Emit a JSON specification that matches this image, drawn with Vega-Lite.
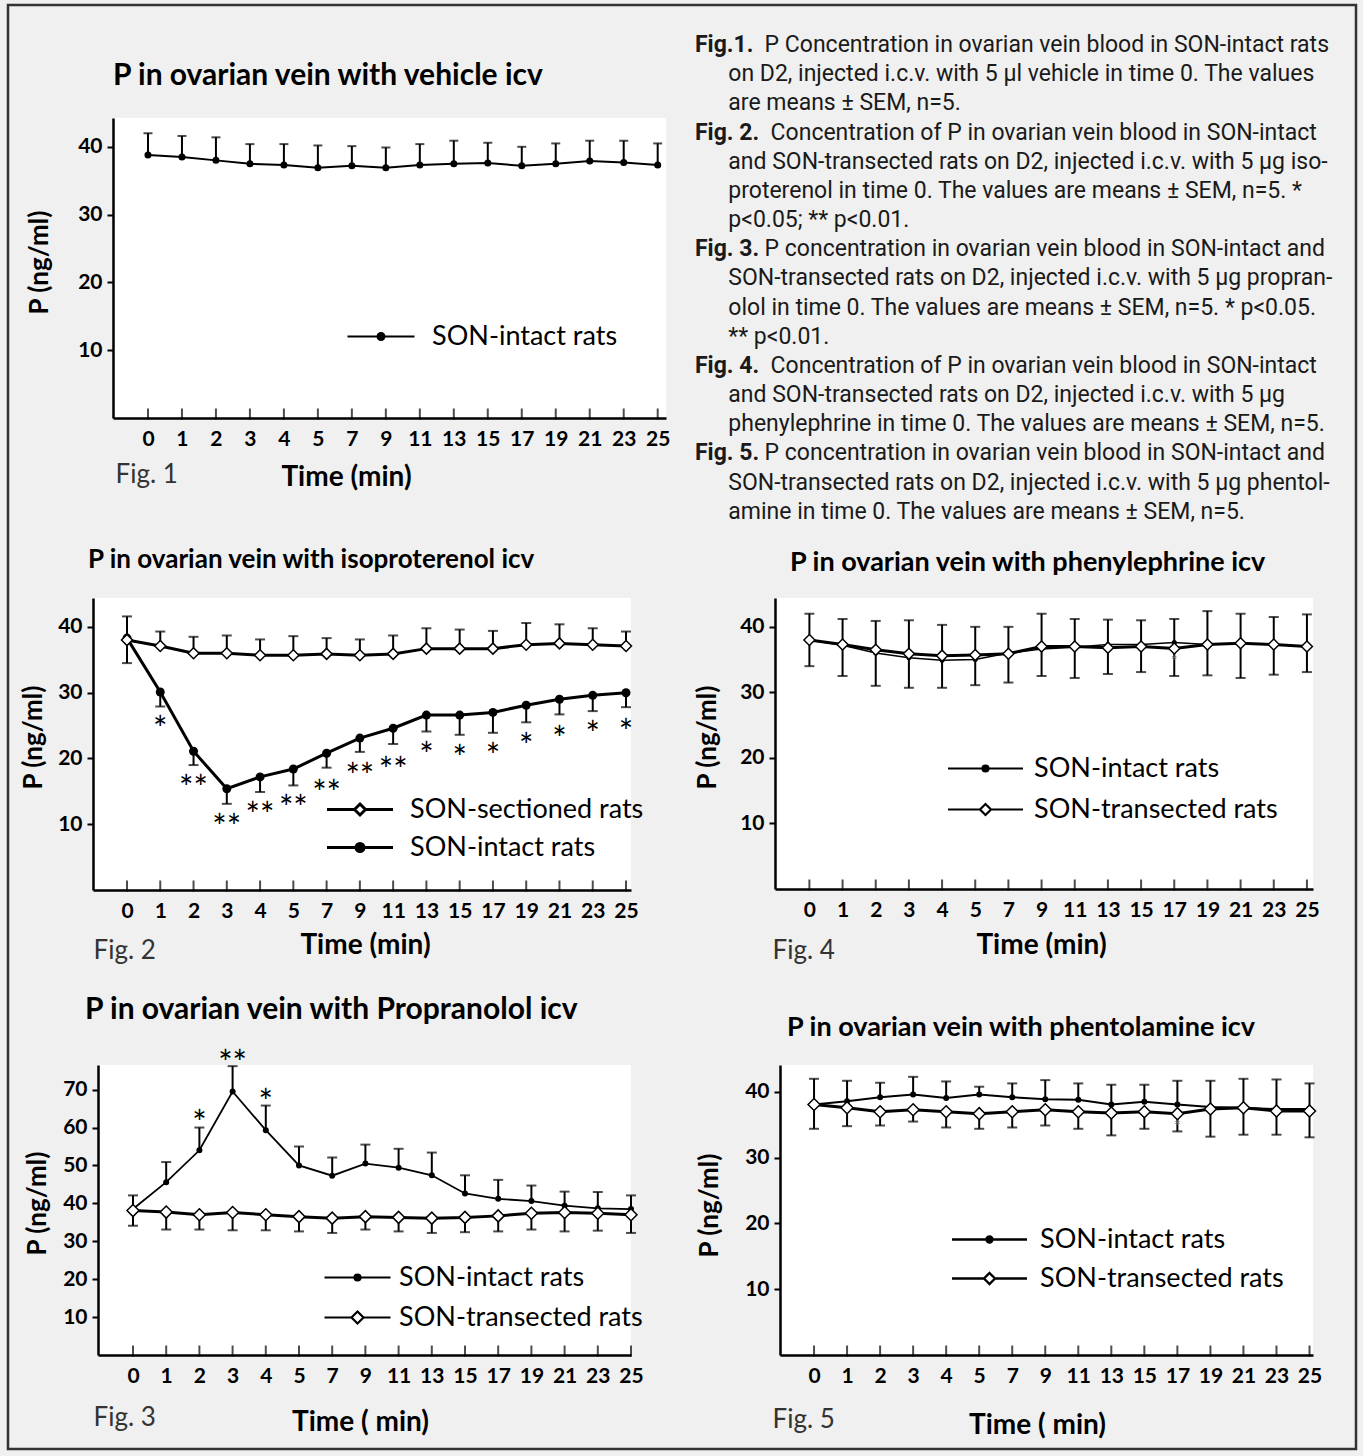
{
"$schema": "https://vega.github.io/schema/vega-lite/v6.json",
"background": "#f0f0f0",
"padding": {"left": 5, "top": 3, "right": 8, "bottom": 8},
"bounds": "flush",
"spacing": 767,
"resolve": {"scale": {"shape": "independent", "fill": "independent", "stroke": "independent"}},
"config": {
 "view": {"stroke": null, "fill": "white"},
 "font": "Lato",
 "axis": {"domainColor": "black", "domainWidth": 2.5, "tickColor": "black", "tickWidth": 2, "labelColor": "black", "labelFont": "Lato", "labelFontSize": 21, "labelFontWeight": "bold", "titleColor": "black", "titleFont": "Lato", "titleFontSize": 26, "titleFontWeight": "bold", "grid": false, "labelOverlap": false},
 "legend": {"labelFont": "Lato", "labelColor": "black", "labelFontSize": 27, "labelLimit": 600, "padding": 0},
 "title": {"font": "Lato", "fontWeight": "bold", "color": "black", "anchor": "start", "frame": "group", "baseline": "alphabetic"}
},
"datasets": {
 "f1": [
  {"t":0,"s":"SON-intact rats","v":38.8,"hi":42.0},{"t":1,"s":"SON-intact rats","v":38.5,"hi":41.6},{"t":2,"s":"SON-intact rats","v":38.0,"hi":41.4},{"t":3,"s":"SON-intact rats","v":37.5,"hi":40.4},{"t":4,"s":"SON-intact rats","v":37.3,"hi":40.4},{"t":5,"s":"SON-intact rats","v":36.9,"hi":40.2},{"t":7,"s":"SON-intact rats","v":37.2,"hi":40.1},{"t":9,"s":"SON-intact rats","v":36.9,"hi":39.9},{"t":11,"s":"SON-intact rats","v":37.3,"hi":40.4},{"t":13,"s":"SON-intact rats","v":37.5,"hi":40.9},{"t":15,"s":"SON-intact rats","v":37.6,"hi":40.6},{"t":17,"s":"SON-intact rats","v":37.2,"hi":40.0},{"t":19,"s":"SON-intact rats","v":37.5,"hi":40.5},{"t":21,"s":"SON-intact rats","v":37.9,"hi":40.9},{"t":23,"s":"SON-intact rats","v":37.7,"hi":40.9},{"t":25,"s":"SON-intact rats","v":37.3,"hi":40.5}
 ],
 "f2": [
  {"t":0,"s":"SON-sectioned rats","v":38.0,"hi":41.6},{"t":1,"s":"SON-sectioned rats","v":37.1,"hi":39.3},{"t":2,"s":"SON-sectioned rats","v":36.0,"hi":38.5},{"t":3,"s":"SON-sectioned rats","v":36.0,"hi":38.7},{"t":4,"s":"SON-sectioned rats","v":35.7,"hi":38.1},{"t":5,"s":"SON-sectioned rats","v":35.7,"hi":38.6},{"t":7,"s":"SON-sectioned rats","v":35.9,"hi":38.3},{"t":9,"s":"SON-sectioned rats","v":35.7,"hi":38.1},{"t":11,"s":"SON-sectioned rats","v":35.9,"hi":38.7},{"t":13,"s":"SON-sectioned rats","v":36.7,"hi":39.8},{"t":15,"s":"SON-sectioned rats","v":36.7,"hi":39.6},{"t":17,"s":"SON-sectioned rats","v":36.7,"hi":39.4},{"t":19,"s":"SON-sectioned rats","v":37.3,"hi":40.6},{"t":21,"s":"SON-sectioned rats","v":37.5,"hi":40.4},{"t":23,"s":"SON-sectioned rats","v":37.3,"hi":39.8},{"t":25,"s":"SON-sectioned rats","v":37.1,"hi":39.3},
  {"t":0,"s":"SON-intact rats","v":38.3,"lo":34.5},{"t":1,"s":"SON-intact rats","v":30.1,"lo":27.9},{"t":2,"s":"SON-intact rats","v":21.1,"lo":19.0},{"t":3,"s":"SON-intact rats","v":15.4,"lo":13.1},{"t":4,"s":"SON-intact rats","v":17.2,"lo":14.9},{"t":5,"s":"SON-intact rats","v":18.4,"lo":15.9},{"t":7,"s":"SON-intact rats","v":20.8,"lo":18.6},{"t":9,"s":"SON-intact rats","v":23.1,"lo":21.0},{"t":11,"s":"SON-intact rats","v":24.6,"lo":22.2},{"t":13,"s":"SON-intact rats","v":26.6,"lo":24.1},{"t":15,"s":"SON-intact rats","v":26.6,"lo":23.6},{"t":17,"s":"SON-intact rats","v":27.0,"lo":23.9},{"t":19,"s":"SON-intact rats","v":28.1,"lo":25.5},{"t":21,"s":"SON-intact rats","v":29.0,"lo":26.7},{"t":23,"s":"SON-intact rats","v":29.6,"lo":27.2},{"t":25,"s":"SON-intact rats","v":30.0,"lo":27.8}
 ],
 "f3": [
  {"t":0,"s":"SON-intact rats","v":38.5,"hi":42.1},{"t":1,"s":"SON-intact rats","v":45.6,"hi":50.9},{"t":2,"s":"SON-intact rats","v":54.0,"hi":60.0},{"t":3,"s":"SON-intact rats","v":69.5,"hi":76.2},{"t":4,"s":"SON-intact rats","v":59.3,"hi":65.8},{"t":5,"s":"SON-intact rats","v":50.0,"hi":55.0},{"t":7,"s":"SON-intact rats","v":47.3,"hi":52.1},{"t":9,"s":"SON-intact rats","v":50.5,"hi":55.5},{"t":11,"s":"SON-intact rats","v":49.4,"hi":54.4},{"t":13,"s":"SON-intact rats","v":47.4,"hi":53.4},{"t":15,"s":"SON-intact rats","v":42.6,"hi":47.4},{"t":17,"s":"SON-intact rats","v":41.2,"hi":46.2},{"t":19,"s":"SON-intact rats","v":40.6,"hi":44.7},{"t":21,"s":"SON-intact rats","v":39.4,"hi":43.1},{"t":23,"s":"SON-intact rats","v":38.7,"hi":43.0},{"t":25,"s":"SON-intact rats","v":38.5,"hi":42.1},
  {"t":0,"s":"SON-transected rats","v":38.1,"lo":34.1},{"t":1,"s":"SON-transected rats","v":37.7,"lo":33.1},{"t":2,"s":"SON-transected rats","v":37.0,"lo":33.1},{"t":3,"s":"SON-transected rats","v":37.6,"lo":32.9},{"t":4,"s":"SON-transected rats","v":37.0,"lo":32.9},{"t":5,"s":"SON-transected rats","v":36.5,"lo":32.6},{"t":7,"s":"SON-transected rats","v":36.1,"lo":32.2},{"t":9,"s":"SON-transected rats","v":36.5,"lo":33.1},{"t":11,"s":"SON-transected rats","v":36.3,"lo":32.6},{"t":13,"s":"SON-transected rats","v":36.1,"lo":32.2},{"t":15,"s":"SON-transected rats","v":36.3,"lo":32.4},{"t":17,"s":"SON-transected rats","v":36.7,"lo":32.6},{"t":19,"s":"SON-transected rats","v":37.4,"lo":33.1},{"t":21,"s":"SON-transected rats","v":37.6,"lo":32.6},{"t":23,"s":"SON-transected rats","v":37.4,"lo":32.8},{"t":25,"s":"SON-transected rats","v":37.0,"lo":32.2}
 ],
 "f4": [
  {"t":0,"s":"SON-intact rats","v":38.0,"hi":42.0},{"t":1,"s":"SON-intact rats","v":37.2,"hi":41.2},{"t":2,"s":"SON-intact rats","v":36.0,"hi":40.9},{"t":3,"s":"SON-intact rats","v":35.3,"hi":41.0},{"t":4,"s":"SON-intact rats","v":34.9,"hi":40.3},{"t":5,"s":"SON-intact rats","v":35.0,"hi":40.0},{"t":7,"s":"SON-intact rats","v":36.0,"hi":40.0},{"t":9,"s":"SON-intact rats","v":36.6,"hi":42.0},{"t":11,"s":"SON-intact rats","v":36.9,"hi":41.2},{"t":13,"s":"SON-intact rats","v":37.3,"hi":41.1},{"t":15,"s":"SON-intact rats","v":37.3,"hi":41.0},{"t":17,"s":"SON-intact rats","v":37.6,"hi":41.2},{"t":19,"s":"SON-intact rats","v":37.3,"hi":42.4},{"t":21,"s":"SON-intact rats","v":37.5,"hi":42.0},{"t":23,"s":"SON-intact rats","v":37.3,"hi":41.5},{"t":25,"s":"SON-intact rats","v":37.0,"hi":41.9},
  {"t":0,"s":"SON-transected rats","v":38.0,"lo":34.0},{"t":1,"s":"SON-transected rats","v":37.3,"lo":32.5},{"t":2,"s":"SON-transected rats","v":36.5,"lo":31.0},{"t":3,"s":"SON-transected rats","v":35.9,"lo":30.7},{"t":4,"s":"SON-transected rats","v":35.6,"lo":30.7},{"t":5,"s":"SON-transected rats","v":35.7,"lo":31.1},{"t":7,"s":"SON-transected rats","v":35.9,"lo":31.5},{"t":9,"s":"SON-transected rats","v":37.0,"lo":32.5},{"t":11,"s":"SON-transected rats","v":37.0,"lo":32.2},{"t":13,"s":"SON-transected rats","v":36.8,"lo":32.8},{"t":15,"s":"SON-transected rats","v":37.0,"lo":33.1},{"t":17,"s":"SON-transected rats","v":36.7,"lo":32.5},{"t":19,"s":"SON-transected rats","v":37.3,"lo":32.6},{"t":21,"s":"SON-transected rats","v":37.5,"lo":32.2},{"t":23,"s":"SON-transected rats","v":37.3,"lo":32.7},{"t":25,"s":"SON-transected rats","v":37.0,"lo":33.1}
 ],
 "f5": [
  {"t":0,"s":"SON-intact rats","v":38.1,"hi":42.0},{"t":1,"s":"SON-intact rats","v":38.6,"hi":41.7},{"t":2,"s":"SON-intact rats","v":39.2,"hi":41.4},{"t":3,"s":"SON-intact rats","v":39.6,"hi":42.3},{"t":4,"s":"SON-intact rats","v":39.1,"hi":41.6},{"t":5,"s":"SON-intact rats","v":39.6,"hi":40.8},{"t":7,"s":"SON-intact rats","v":39.2,"hi":41.3},{"t":9,"s":"SON-intact rats","v":38.9,"hi":41.8},{"t":11,"s":"SON-intact rats","v":38.8,"hi":41.3},{"t":13,"s":"SON-intact rats","v":38.1,"hi":41.1},{"t":15,"s":"SON-intact rats","v":38.5,"hi":41.1},{"t":17,"s":"SON-intact rats","v":38.1,"hi":41.7},{"t":19,"s":"SON-intact rats","v":37.7,"hi":41.7},{"t":21,"s":"SON-intact rats","v":37.6,"hi":42.0},{"t":23,"s":"SON-intact rats","v":37.4,"hi":41.9},{"t":25,"s":"SON-intact rats","v":37.4,"hi":41.3},
  {"t":0,"s":"SON-transected rats","v":38.1,"lo":34.4},{"t":1,"s":"SON-transected rats","v":37.6,"lo":34.8},{"t":2,"s":"SON-transected rats","v":37.0,"lo":34.9},{"t":3,"s":"SON-transected rats","v":37.3,"lo":35.5},{"t":4,"s":"SON-transected rats","v":37.0,"lo":34.6},{"t":5,"s":"SON-transected rats","v":36.7,"lo":34.4},{"t":7,"s":"SON-transected rats","v":37.0,"lo":34.6},{"t":9,"s":"SON-transected rats","v":37.3,"lo":34.9},{"t":11,"s":"SON-transected rats","v":37.0,"lo":34.4},{"t":13,"s":"SON-transected rats","v":36.8,"lo":33.4},{"t":15,"s":"SON-transected rats","v":37.0,"lo":34.4},{"t":17,"s":"SON-transected rats","v":36.7,"lo":34.0},{"t":19,"s":"SON-transected rats","v":37.4,"lo":33.2},{"t":21,"s":"SON-transected rats","v":37.6,"lo":33.5},{"t":23,"s":"SON-transected rats","v":37.1,"lo":33.5},{"t":25,"s":"SON-transected rats","v":37.1,"lo":33.1}
 ],
 "a2": [{"t":1,"y":25.4,"lab":"*"},{"t":2,"y":16.4,"lab":"**"},{"t":3,"y":10.5,"lab":"**"},{"t":4,"y":12.3,"lab":"**"},{"t":5,"y":13.4,"lab":"**"},{"t":7,"y":15.7,"lab":"**"},{"t":9,"y":18.2,"lab":"**"},{"t":11,"y":19.1,"lab":"**"},{"t":13,"y":21.4,"lab":"*"},{"t":15,"y":21.0,"lab":"*"},{"t":17,"y":21.3,"lab":"*"},{"t":19,"y":22.8,"lab":"*"},{"t":21,"y":23.8,"lab":"*"},{"t":23,"y":24.6,"lab":"*"},{"t":25,"y":24.9,"lab":"*"}],
 "a3": [{"t":2,"y":62.7,"lab":"*"},{"t":3,"y":78.7,"lab":"**"},{"t":4,"y":68.2,"lab":"*"}],
 "a4": [{"t":17,"y":35.4,"lab":"*"}],
 "a5": [{"t":17,"y":35.5,"lab":"*"}],
 "cap": [
  {"line":1,"fig":1,"part":"head","text":"Fig.1."},
  {"line":1,"fig":1,"part":"rest","text":"P Concentration in ovarian vein blood in SON-intact rats"},
  {"line":2,"fig":1,"part":"cont","text":"on D2, injected i.c.v. with 5 µl vehicle in time 0. The values"},
  {"line":3,"fig":1,"part":"cont","text":"are means ± SEM, n=5."},
  {"line":4,"fig":2,"part":"head","text":"Fig. 2."},
  {"line":4,"fig":2,"part":"rest","text":"Concentration of P in ovarian vein blood in SON-intact"},
  {"line":5,"fig":2,"part":"cont","text":"and SON-transected rats on D2, injected i.c.v. with 5 µg iso-"},
  {"line":6,"fig":2,"part":"cont","text":"proterenol in time 0. The values are means ± SEM, n=5.   *"},
  {"line":7,"fig":2,"part":"cont","text":"p<0.05; ** p<0.01."},
  {"line":8,"fig":3,"part":"head","text":"Fig. 3."},
  {"line":8,"fig":3,"part":"rest","text":"P concentration in ovarian vein blood in SON-intact and"},
  {"line":9,"fig":3,"part":"cont","text":"SON-transected rats on D2,  injected i.c.v. with 5 µg propran-"},
  {"line":10,"fig":3,"part":"cont","text":"olol in time 0. The values are means ± SEM, n=5. * p<0.05."},
  {"line":11,"fig":3,"part":"cont","text":"** p<0.01."},
  {"line":12,"fig":4,"part":"head","text":"Fig. 4."},
  {"line":12,"fig":4,"part":"rest","text":"Concentration of P in ovarian vein blood in SON-intact"},
  {"line":13,"fig":4,"part":"cont","text":"and SON-transected rats on D2, injected i.c.v. with 5 µg"},
  {"line":14,"fig":4,"part":"cont","text":"phenylephrine in time 0. The values are means ± SEM, n=5."},
  {"line":15,"fig":5,"part":"head","text":"Fig. 5."},
  {"line":15,"fig":5,"part":"rest","text":"P concentration in ovarian vein blood in SON-intact and"},
  {"line":16,"fig":5,"part":"cont","text":"SON-transected rats on D2, injected i.c.v. with 5 µg phentol-"},
  {"line":17,"fig":5,"part":"cont","text":"amine in time 0. The values are means ± SEM, n=5."}
 ]
},
"hconcat": [
 {"vconcat": [
  {"hconcat": [
   {"width": 1348, "height": 1444, "view": {"fill": "transparent", "stroke": "#333333", "strokeWidth": 2.5}, "data": {"values": [{"a": 1}]}, "mark": {"type": "point", "opacity": 0}}
  ], "spacing": 0, "bounds": "flush"},
  {"hconcat": [
   {"width": 105, "height": 1, "view": {"fill": "transparent", "stroke": null}, "data": {"values": [{"a": 1}]}, "mark": {"type": "point", "opacity": 0}},
   {"width": 553, "height": 300,
    "title": {"text": "P in ovarian vein with vehicle icv", "dx": 0, "offset": 27, "fontSize": 30},
    "data": {"name": "f1"},
    "resolve": {"axis": {"x": "independent"}},
    "layer": [
     {"transform": [{"filter": "datum.hi != null"}], "mark": {"type": "rule", "color": "black", "strokeWidth": 2},
      "encoding": {"x": {"field": "t", "type": "ordinal", "axis": null}, "y": {"field": "v", "type": "quantitative"}, "y2": {"field": "hi"}}},
     {"transform": [{"filter": "datum.hi != null"}], "mark": {"type": "tick", "orient": "horizontal", "size": 9, "thickness": 2, "color": "black"},
      "encoding": {"x": {"field": "t", "type": "ordinal", "axis": null}, "y": {"field": "hi", "type": "quantitative"}}},
     {"mark": {"type": "line", "color": "black", "strokeWidth": 2},
      "encoding": {
       "x": {"field": "t", "type": "ordinal", "scale": {"type": "point", "padding": 0.637, "align": 0.808},
             "axis": {"orient": "bottom", "title": "Time (min)", "titleX": 233, "titleY": 67, "titleAlign": "center", "titleBaseline": "alphabetic", "titleFontSize": 28, "labelAngle": 0, "labelFontWeight": "bold", "ticks": false, "tickSize": 0, "labelPadding": 10}},
       "y": {"field": "v", "type": "quantitative", "scale": {"domain": [0, 44.25], "nice": false, "zero": false},
             "axis": {"values": [10, 20, 30, 40], "title": "P (ng/ml)", "titleX": -74, "titleY": 144, "titleAngle": -90, "titleAlign": "center", "titleBaseline": "middle", "labelFontWeight": "bold", "tickSize": 6, "labelPadding": 5}}}},
     {"mark": {"type": "point", "shape": "circle", "filled": true, "color": "black", "size": 49, "opacity": 1},
      "encoding": {"x": {"field": "t", "type": "ordinal", "axis": null}, "y": {"field": "v", "type": "quantitative"}}},
     {"mark": {"type": "tick", "orient": "vertical", "size": 11, "thickness": 2, "color": "black", "yOffset": -4},
      "encoding": {"x": {"field": "t", "type": "ordinal", "axis": {"orient": "bottom", "title": "Fig. 1", "domain": false, "labels": false, "ticks": false, "titleX": 2, "titleY": 64, "titleAlign": "left", "titleBaseline": "alphabetic", "titleFontWeight": "normal", "titleFontSize": 26, "titleColor": "#333333"}},
                   "y": {"datum": 0, "type": "quantitative"}}},
     {"transform": [{"filter": "false"}], "mark": {"type": "point", "opacity": 1, "filled": false, "strokeWidth": 2},
      "encoding": {"x": {"field": "t", "type": "ordinal", "axis": null}, "y": {"field": "v", "type": "quantitative"},
       "shape": {"field": "s", "type": "nominal", "scale": {"domain": ["SON-intact rats"], "range": ["M-6.7,0H6.7M-0.7,0A0.7,0.7,0,1,0,0.7,0A0.7,0.7,0,1,0,-0.7,0Z"]},
                 "legend": {"orient": "none", "legendX": 254.5, "legendY": 205, "title": null, "labelOffset": 37.5, "symbolSize": 100, "symbolStrokeWidth": 2, "symbolStrokeColor": "black", "symbolOpacity": 1}},
       "fill": {"field": "s", "type": "nominal", "scale": {"domain": ["SON-intact rats"], "range": ["black"]}},
       "stroke": {"field": "s", "type": "nominal", "scale": {"domain": ["SON-intact rats"], "range": ["black"]}}}}
    ]}
  ], "spacing": 0, "bounds": "flush", "resolve": {"scale": {"shape": "independent", "fill": "independent", "stroke": "independent"}}},
  {"width": 1, "height": 254, "view": {"fill": "transparent", "stroke": null}, "data": {"values": [{"a": 1}]}, "mark": {"type": "point", "opacity": 0}},
  {"hconcat": [
   {"width": 85, "height": 1, "view": {"fill": "transparent", "stroke": null}, "data": {"values": [{"a": 1}]}, "mark": {"type": "point", "opacity": 0}},
   {"width": 538, "height": 292,
    "title": {"text": "P in ovarian vein with isoproterenol icv", "dx": -5, "offset": 25, "fontSize": 26},
    "data": {"name": "f2"},
    "resolve": {"axis": {"x": "independent"}},
    "layer": [
     {"transform": [{"filter": "datum.hi != null"}], "mark": {"type": "rule", "color": "black", "strokeWidth": 2},
      "encoding": {"x": {"field": "t", "type": "ordinal", "axis": null}, "y": {"field": "v", "type": "quantitative"}, "y2": {"field": "hi"}}},
     {"transform": [{"filter": "datum.hi != null"}], "mark": {"type": "tick", "orient": "horizontal", "size": 10, "thickness": 2, "color": "black"},
      "encoding": {"x": {"field": "t", "type": "ordinal", "axis": null}, "y": {"field": "hi", "type": "quantitative"}}},
     {"transform": [{"filter": "datum.lo != null"}], "mark": {"type": "rule", "color": "black", "strokeWidth": 2},
      "encoding": {"x": {"field": "t", "type": "ordinal", "axis": null}, "y": {"field": "lo", "type": "quantitative"}, "y2": {"field": "v"}}},
     {"transform": [{"filter": "datum.lo != null"}], "mark": {"type": "tick", "orient": "horizontal", "size": 10, "thickness": 2, "color": "black"},
      "encoding": {"x": {"field": "t", "type": "ordinal", "axis": null}, "y": {"field": "lo", "type": "quantitative"}}},
     {"transform": [{"filter": "datum.s == 'SON-sectioned rats'"}], "mark": {"type": "line", "color": "black", "strokeWidth": 3},
      "encoding": {
       "x": {"field": "t", "type": "ordinal", "scale": {"type": "point", "padding": 0.586, "align": 0.872},
             "axis": {"orient": "bottom", "title": "Time (min)", "titleX": 272, "titleY": 63, "titleAlign": "center", "titleBaseline": "alphabetic", "titleFontSize": 28, "labelAngle": 0, "labelFontWeight": "bold", "ticks": false, "tickSize": 0, "labelPadding": 10}},
       "y": {"field": "v", "type": "quantitative", "scale": {"domain": [0, 44.4], "nice": false, "zero": false},
             "axis": {"values": [10, 20, 30, 40], "title": "P (ng/ml)", "titleX": -60, "titleY": 139, "titleAngle": -90, "titleAlign": "center", "titleBaseline": "middle", "labelFontWeight": "bold", "tickSize": 6, "labelPadding": 5}}}},
     {"transform": [{"filter": "datum.s == 'SON-intact rats'"}], "mark": {"type": "line", "color": "black", "strokeWidth": 3},
      "encoding": {"x": {"field": "t", "type": "ordinal", "axis": null}, "y": {"field": "v", "type": "quantitative"}}},
     {"transform": [{"filter": "datum.s == 'SON-intact rats'"}], "mark": {"type": "point", "shape": "circle", "filled": true, "color": "black", "size": 81, "opacity": 1},
      "encoding": {"x": {"field": "t", "type": "ordinal", "axis": null}, "y": {"field": "v", "type": "quantitative"}}},
     {"transform": [{"filter": "datum.s == 'SON-sectioned rats'"}], "mark": {"type": "point", "shape": "diamond", "filled": true, "fill": "white", "stroke": "black", "strokeWidth": 1.5, "size": 121, "opacity": 1},
      "encoding": {"x": {"field": "t", "type": "ordinal", "axis": null}, "y": {"field": "v", "type": "quantitative"}}},
     {"transform": [{"filter": "datum.s == 'SON-intact rats'"}], "mark": {"type": "tick", "orient": "vertical", "size": 11, "thickness": 2, "color": "black", "yOffset": -4},
      "encoding": {"x": {"field": "t", "type": "ordinal", "axis": {"orient": "bottom", "title": "Fig. 2", "domain": false, "labels": false, "ticks": false, "titleX": 0, "titleY": 68, "titleAlign": "left", "titleBaseline": "alphabetic", "titleFontWeight": "normal", "titleFontSize": 26, "titleColor": "#333333"}},
                   "y": {"datum": 0, "type": "quantitative"}}},
     {"transform": [{"filter": "false"}], "mark": {"type": "point", "opacity": 1, "filled": false, "strokeWidth": 3},
      "encoding": {"x": {"field": "t", "type": "ordinal", "axis": null}, "y": {"field": "v", "type": "quantitative"},
       "shape": {"field": "s", "type": "nominal", "scale": {"domain": ["SON-sectioned rats", "SON-intact rats"], "range": ["M-6.6,0H-1.1M1.1,0H6.6M0,-1.1L1.1,0L0,1.1L-1.1,0Z", "M-6.6,0H6.6M-0.8,0A0.8,0.8,0,1,0,0.8,0A0.8,0.8,0,1,0,-0.8,0Z"]},
                 "legend": {"orient": "none", "legendX": 253.5, "legendY": 198, "title": null, "labelOffset": 36.5, "rowPadding": 10, "symbolSize": 100, "symbolStrokeWidth": 3, "symbolStrokeColor": "black", "symbolOpacity": 1}},
       "fill": {"field": "s", "type": "nominal", "scale": {"domain": ["SON-sectioned rats", "SON-intact rats"], "range": ["white", "black"]}},
       "stroke": {"field": "s", "type": "nominal", "scale": {"domain": ["SON-sectioned rats", "SON-intact rats"], "range": ["black", "black"]}}}},
     {"data": {"name": "a2"}, "mark": {"type": "text", "font": "Lato", "fontSize": 34, "baseline": "alphabetic", "dy": 18, "color": "black"},
      "encoding": {"x": {"field": "t", "type": "ordinal", "axis": null}, "y": {"field": "y", "type": "quantitative"}, "text": {"field": "lab"}}}
    ]}
  ], "spacing": 0, "bounds": "flush", "resolve": {"scale": {"shape": "independent", "fill": "independent", "stroke": "independent"}}},
  {"width": 1, "height": 241, "view": {"fill": "transparent", "stroke": null}, "data": {"values": [{"a": 1}]}, "mark": {"type": "point", "opacity": 0}},
  {"hconcat": [
   {"width": 90, "height": 1, "view": {"fill": "transparent", "stroke": null}, "data": {"values": [{"a": 1}]}, "mark": {"type": "point", "opacity": 0}},
   {"width": 533, "height": 290,
    "title": {"text": "P in ovarian vein with Propranolol icv", "dx": -13, "offset": 23, "fontSize": 30},
    "data": {"name": "f3"},
    "resolve": {"axis": {"x": "independent"}},
    "layer": [
     {"transform": [{"filter": "datum.hi != null"}], "mark": {"type": "rule", "color": "black", "strokeWidth": 2},
      "encoding": {"x": {"field": "t", "type": "ordinal", "axis": null}, "y": {"field": "v", "type": "quantitative"}, "y2": {"field": "hi"}}},
     {"transform": [{"filter": "datum.hi != null"}], "mark": {"type": "tick", "orient": "horizontal", "size": 10, "thickness": 2, "color": "black"},
      "encoding": {"x": {"field": "t", "type": "ordinal", "axis": null}, "y": {"field": "hi", "type": "quantitative"}}},
     {"transform": [{"filter": "datum.lo != null"}], "mark": {"type": "rule", "color": "black", "strokeWidth": 2},
      "encoding": {"x": {"field": "t", "type": "ordinal", "axis": null}, "y": {"field": "lo", "type": "quantitative"}, "y2": {"field": "v"}}},
     {"transform": [{"filter": "datum.lo != null"}], "mark": {"type": "tick", "orient": "horizontal", "size": 10, "thickness": 2, "color": "black"},
      "encoding": {"x": {"field": "t", "type": "ordinal", "axis": null}, "y": {"field": "lo", "type": "quantitative"}}},
     {"transform": [{"filter": "datum.s == 'SON-intact rats'"}], "mark": {"type": "line", "color": "black", "strokeWidth": 1.8},
      "encoding": {
       "x": {"field": "t", "type": "ordinal", "scale": {"type": "point", "padding": 0.527, "align": 1},
             "axis": {"orient": "bottom", "title": "Time ( min)", "titleX": 262, "titleY": 75, "titleAlign": "center", "titleBaseline": "alphabetic", "titleFontSize": 28, "labelAngle": 0, "labelFontWeight": "bold", "ticks": false, "tickSize": 0, "labelPadding": 10}},
       "y": {"field": "v", "type": "quantitative", "scale": {"domain": [0, 76.5], "nice": false, "zero": false},
             "axis": {"values": [10, 20, 30, 40, 50, 60, 70], "title": "P (ng/ml)", "titleX": -61, "titleY": 138, "titleAngle": -90, "titleAlign": "center", "titleBaseline": "middle", "labelFontWeight": "bold", "tickSize": 6, "labelPadding": 5}}}},
     {"transform": [{"filter": "datum.s == 'SON-transected rats'"}], "mark": {"type": "line", "color": "black", "strokeWidth": 3},
      "encoding": {"x": {"field": "t", "type": "ordinal", "axis": null}, "y": {"field": "v", "type": "quantitative"}}},
     {"transform": [{"filter": "datum.s == 'SON-intact rats'"}], "mark": {"type": "point", "shape": "circle", "filled": true, "color": "black", "size": 36, "opacity": 1},
      "encoding": {"x": {"field": "t", "type": "ordinal", "axis": null}, "y": {"field": "v", "type": "quantitative"}}},
     {"transform": [{"filter": "datum.s == 'SON-transected rats'"}], "mark": {"type": "point", "shape": "diamond", "filled": true, "fill": "white", "stroke": "black", "strokeWidth": 1.5, "size": 144, "opacity": 1},
      "encoding": {"x": {"field": "t", "type": "ordinal", "axis": null}, "y": {"field": "v", "type": "quantitative"}}},
     {"transform": [{"filter": "datum.s == 'SON-intact rats'"}], "mark": {"type": "tick", "orient": "vertical", "size": 11, "thickness": 2, "color": "black", "yOffset": -4},
      "encoding": {"x": {"field": "t", "type": "ordinal", "axis": {"orient": "bottom", "title": "Fig. 3", "domain": false, "labels": false, "ticks": false, "titleX": -5, "titleY": 70, "titleAlign": "left", "titleBaseline": "alphabetic", "titleFontWeight": "normal", "titleFontSize": 26, "titleColor": "#333333"}},
                   "y": {"datum": 0, "type": "quantitative"}}},
     {"transform": [{"filter": "false"}], "mark": {"type": "point", "opacity": 1, "filled": false, "strokeWidth": 2.2},
      "encoding": {"x": {"field": "t", "type": "ordinal", "axis": null}, "y": {"field": "v", "type": "quantitative"},
       "shape": {"field": "s", "type": "nominal", "scale": {"domain": ["SON-intact rats", "SON-transected rats"], "range": ["M-6.6,0H6.6M-0.6,0A0.6,0.6,0,1,0,0.6,0A0.6,0.6,0,1,0,-0.6,0Z", "M-6.6,0H-1.2M1.2,0H6.6M0,-1.2L1.2,0L0,1.2L-1.2,0Z"]},
                 "legend": {"orient": "none", "legendX": 246, "legendY": 199, "title": null, "labelOffset": 28, "rowPadding": 12, "symbolSize": 100, "symbolStrokeWidth": 2.2, "symbolStrokeColor": "black", "symbolOpacity": 1}},
       "fill": {"field": "s", "type": "nominal", "scale": {"domain": ["SON-intact rats", "SON-transected rats"], "range": ["black", "white"]}},
       "stroke": {"field": "s", "type": "nominal", "scale": {"domain": ["SON-intact rats", "SON-transected rats"], "range": ["black", "black"]}}}},
     {"data": {"name": "a3"}, "mark": {"type": "text", "font": "Lato", "fontSize": 34, "baseline": "alphabetic", "dy": 18, "color": "black"},
      "encoding": {"x": {"field": "t", "type": "ordinal", "axis": null}, "y": {"field": "y", "type": "quantitative"}, "text": {"field": "lab"}}}
    ]}
  ], "spacing": 0, "bounds": "flush", "resolve": {"scale": {"shape": "independent", "fill": "independent", "stroke": "independent"}}}
 ], "spacing": 113, "bounds": "flush", "resolve": {"scale": {"shape": "independent", "fill": "independent", "stroke": "independent"}}},
 {"vconcat": [
  {"width": 540, "height": 480,
   "view": {"fill": "transparent", "stroke": null},
   "data": {"name": "cap"},
   "encoding": {
    "x": {"field": "part", "type": "nominal", "scale": {"type": "point", "domain": ["head", "cont", "rest"], "range": [-80, -13.4], "padding": 0}, "axis": null},
    "y": {"field": "line", "type": "quantitative", "scale": {"domain": [1, 17], "range": [40, 506.7], "nice": false, "zero": false}, "axis": null},
    "text": {"field": "text"}
   },
   "layer": [
    {"transform": [{"filter": "datum.part == 'head'"}], "mark": {"type": "text", "align": "left", "baseline": "middle", "font": "Roboto", "fontWeight": "bold", "fontSize": 23, "color": "#1a1a1a"}},
    {"transform": [{"filter": "datum.part == 'cont'"}], "mark": {"type": "text", "align": "left", "baseline": "middle", "font": "Roboto", "fontSize": 23, "color": "#1a1a1a"}},
    {"transform": [{"filter": "datum.part == 'rest' && (datum.fig == 2 || datum.fig == 4)"}], "mark": {"type": "text", "align": "left", "baseline": "middle", "font": "Roboto", "fontSize": 23, "color": "#1a1a1a", "dx": 9}},
    {"transform": [{"filter": "datum.part == 'rest' && (datum.fig == 1 || datum.fig == 3 || datum.fig == 5)"}], "mark": {"type": "text", "align": "left", "baseline": "middle", "font": "Roboto", "fontSize": 23, "color": "#1a1a1a", "dx": 3}}
   ]},
  {"hconcat": [
   {"width": 538, "height": 291,
    "title": {"text": "P in ovarian vein with phenylephrine icv", "dx": 15, "offset": 21, "fontSize": 27},
    "data": {"name": "f4"},
    "resolve": {"axis": {"x": "independent"}},
    "layer": [
     {"transform": [{"filter": "datum.hi != null"}], "mark": {"type": "rule", "color": "black", "strokeWidth": 2},
      "encoding": {"x": {"field": "t", "type": "ordinal", "axis": null}, "y": {"field": "v", "type": "quantitative"}, "y2": {"field": "hi"}}},
     {"transform": [{"filter": "datum.hi != null"}], "mark": {"type": "tick", "orient": "horizontal", "size": 10, "thickness": 2, "color": "black"},
      "encoding": {"x": {"field": "t", "type": "ordinal", "axis": null}, "y": {"field": "hi", "type": "quantitative"}}},
     {"transform": [{"filter": "datum.lo != null"}], "mark": {"type": "rule", "color": "black", "strokeWidth": 2},
      "encoding": {"x": {"field": "t", "type": "ordinal", "axis": null}, "y": {"field": "lo", "type": "quantitative"}, "y2": {"field": "v"}}},
     {"transform": [{"filter": "datum.lo != null"}], "mark": {"type": "tick", "orient": "horizontal", "size": 10, "thickness": 2, "color": "black"},
      "encoding": {"x": {"field": "t", "type": "ordinal", "axis": null}, "y": {"field": "lo", "type": "quantitative"}}},
     {"transform": [{"filter": "datum.s == 'SON-intact rats'"}], "mark": {"type": "line", "color": "black", "strokeWidth": 1.5},
      "encoding": {
       "x": {"field": "t", "type": "ordinal", "scale": {"type": "point", "padding": 0.61, "align": 0.85},
             "axis": {"orient": "bottom", "title": "Time (min)", "titleX": 266, "titleY": 64, "titleAlign": "center", "titleBaseline": "alphabetic", "titleFontSize": 28, "labelAngle": 0, "labelFontWeight": "bold", "ticks": false, "tickSize": 0, "labelPadding": 10}},
       "y": {"field": "v", "type": "quantitative", "scale": {"domain": [0, 44.4], "nice": false, "zero": false},
             "axis": {"values": [10, 20, 30, 40], "title": "P (ng/ml)", "titleX": -68, "titleY": 139, "titleAngle": -90, "titleAlign": "center", "titleBaseline": "middle", "labelFontWeight": "bold", "tickSize": 6, "labelPadding": 5}}}},
     {"transform": [{"filter": "datum.s == 'SON-transected rats'"}], "mark": {"type": "line", "color": "black", "strokeWidth": 3},
      "encoding": {"x": {"field": "t", "type": "ordinal", "axis": null}, "y": {"field": "v", "type": "quantitative"}}},
     {"transform": [{"filter": "datum.s == 'SON-intact rats'"}], "mark": {"type": "point", "shape": "circle", "filled": true, "color": "black", "size": 25, "opacity": 1},
      "encoding": {"x": {"field": "t", "type": "ordinal", "axis": null}, "y": {"field": "v", "type": "quantitative"}}},
     {"transform": [{"filter": "datum.s == 'SON-transected rats'"}], "mark": {"type": "point", "shape": "diamond", "filled": true, "fill": "white", "stroke": "black", "strokeWidth": 1.5, "size": 121, "opacity": 1},
      "encoding": {"x": {"field": "t", "type": "ordinal", "axis": null}, "y": {"field": "v", "type": "quantitative"}}},
     {"transform": [{"filter": "datum.s == 'SON-intact rats'"}], "mark": {"type": "tick", "orient": "vertical", "size": 11, "thickness": 2, "color": "black", "yOffset": -4},
      "encoding": {"x": {"field": "t", "type": "ordinal", "axis": {"orient": "bottom", "title": "Fig. 4", "domain": false, "labels": false, "ticks": false, "titleX": -3, "titleY": 69, "titleAlign": "left", "titleBaseline": "alphabetic", "titleFontWeight": "normal", "titleFontSize": 26, "titleColor": "#333333"}},
                   "y": {"datum": 0, "type": "quantitative"}}},
     {"transform": [{"filter": "false"}], "mark": {"type": "point", "opacity": 1, "filled": false, "strokeWidth": 2.2},
      "encoding": {"x": {"field": "t", "type": "ordinal", "axis": null}, "y": {"field": "v", "type": "quantitative"},
       "shape": {"field": "s", "type": "nominal", "scale": {"domain": ["SON-intact rats", "SON-transected rats"], "range": ["M-7.5,0H7.5M-0.6,0A0.6,0.6,0,1,0,0.6,0A0.6,0.6,0,1,0,-0.6,0Z", "M-7.5,0H-1.1M1.1,0H7.5M0,-1.1L1.1,0L0,1.1L-1.1,0Z"]},
                 "legend": {"orient": "none", "legendX": 197, "legendY": 157, "title": null, "labelOffset": 35, "rowPadding": 13, "symbolSize": 100, "symbolStrokeWidth": 2.2, "symbolStrokeColor": "black", "symbolOpacity": 1}},
       "fill": {"field": "s", "type": "nominal", "scale": {"domain": ["SON-intact rats", "SON-transected rats"], "range": ["black", "white"]}},
       "stroke": {"field": "s", "type": "nominal", "scale": {"domain": ["SON-intact rats", "SON-transected rats"], "range": ["black", "black"]}}}},
     {"data": {"name": "a4"}, "mark": {"type": "text", "font": "Lato", "fontSize": 16, "baseline": "alphabetic", "dy": 9, "color": "#666666"},
      "encoding": {"x": {"field": "t", "type": "ordinal", "axis": null}, "y": {"field": "y", "type": "quantitative"}, "text": {"field": "lab"}}}
    ]}
  ], "spacing": 0, "bounds": "flush", "resolve": {"scale": {"shape": "independent", "fill": "independent", "stroke": "independent"}}},
  {"width": 1, "height": 241, "view": {"fill": "transparent", "stroke": null}, "data": {"values": [{"a": 1}]}, "mark": {"type": "point", "opacity": 0}},
  {"hconcat": [
   {"width": 5, "height": 1, "view": {"fill": "transparent", "stroke": null}, "data": {"values": [{"a": 1}]}, "mark": {"type": "point", "opacity": 0}},
   {"width": 533, "height": 290,
    "title": {"text": "P in ovarian vein with phentolamine icv", "dx": 7, "offset": 23, "fontSize": 27},
    "data": {"name": "f5"},
    "resolve": {"axis": {"x": "independent"}},
    "layer": [
     {"transform": [{"filter": "datum.hi != null"}], "mark": {"type": "rule", "color": "black", "strokeWidth": 2},
      "encoding": {"x": {"field": "t", "type": "ordinal", "axis": null}, "y": {"field": "v", "type": "quantitative"}, "y2": {"field": "hi"}}},
     {"transform": [{"filter": "datum.hi != null"}], "mark": {"type": "tick", "orient": "horizontal", "size": 10, "thickness": 2, "color": "black"},
      "encoding": {"x": {"field": "t", "type": "ordinal", "axis": null}, "y": {"field": "hi", "type": "quantitative"}}},
     {"transform": [{"filter": "datum.lo != null"}], "mark": {"type": "rule", "color": "black", "strokeWidth": 2},
      "encoding": {"x": {"field": "t", "type": "ordinal", "axis": null}, "y": {"field": "lo", "type": "quantitative"}, "y2": {"field": "v"}}},
     {"transform": [{"filter": "datum.lo != null"}], "mark": {"type": "tick", "orient": "horizontal", "size": 10, "thickness": 2, "color": "black"},
      "encoding": {"x": {"field": "t", "type": "ordinal", "axis": null}, "y": {"field": "lo", "type": "quantitative"}}},
     {"transform": [{"filter": "datum.s == 'SON-intact rats'"}], "mark": {"type": "line", "color": "black", "strokeWidth": 2},
      "encoding": {
       "x": {"field": "t", "type": "ordinal", "scale": {"type": "point", "padding": 0.568, "align": 0.907},
             "axis": {"orient": "bottom", "title": "Time ( min)", "titleX": 257, "titleY": 78, "titleAlign": "center", "titleBaseline": "alphabetic", "titleFontSize": 28, "labelAngle": 0, "labelFontWeight": "bold", "ticks": false, "tickSize": 0, "labelPadding": 10}},
       "y": {"field": "v", "type": "quantitative", "scale": {"domain": [0, 44.1], "nice": false, "zero": false},
             "axis": {"values": [10, 20, 30, 40], "title": "P (ng/ml)", "titleX": -71, "titleY": 140, "titleAngle": -90, "titleAlign": "center", "titleBaseline": "middle", "labelFontWeight": "bold", "tickSize": 6, "labelPadding": 5}}}},
     {"transform": [{"filter": "datum.s == 'SON-transected rats'"}], "mark": {"type": "line", "color": "black", "strokeWidth": 3},
      "encoding": {"x": {"field": "t", "type": "ordinal", "axis": null}, "y": {"field": "v", "type": "quantitative"}}},
     {"transform": [{"filter": "datum.s == 'SON-intact rats'"}], "mark": {"type": "point", "shape": "circle", "filled": true, "color": "black", "size": 36, "opacity": 1},
      "encoding": {"x": {"field": "t", "type": "ordinal", "axis": null}, "y": {"field": "v", "type": "quantitative"}}},
     {"transform": [{"filter": "datum.s == 'SON-transected rats'"}], "mark": {"type": "point", "shape": "diamond", "filled": true, "fill": "white", "stroke": "black", "strokeWidth": 1.5, "size": 144, "opacity": 1},
      "encoding": {"x": {"field": "t", "type": "ordinal", "axis": null}, "y": {"field": "v", "type": "quantitative"}}},
     {"transform": [{"filter": "datum.s == 'SON-intact rats'"}], "mark": {"type": "tick", "orient": "vertical", "size": 11, "thickness": 2, "color": "black", "yOffset": -4},
      "encoding": {"x": {"field": "t", "type": "ordinal", "axis": {"orient": "bottom", "title": "Fig. 5", "domain": false, "labels": false, "ticks": false, "titleX": -8, "titleY": 72, "titleAlign": "left", "titleBaseline": "alphabetic", "titleFontWeight": "normal", "titleFontSize": 26, "titleColor": "#333333"}},
                   "y": {"datum": 0, "type": "quantitative"}}},
     {"transform": [{"filter": "false"}], "mark": {"type": "point", "opacity": 1, "filled": false, "strokeWidth": 2.4},
      "encoding": {"x": {"field": "t", "type": "ordinal", "axis": null}, "y": {"field": "v", "type": "quantitative"},
       "shape": {"field": "s", "type": "nominal", "scale": {"domain": ["SON-intact rats", "SON-transected rats"], "range": ["M-7.5,0H7.5M-0.6,0A0.6,0.6,0,1,0,0.6,0A0.6,0.6,0,1,0,-0.6,0Z", "M-7.5,0H-1.1M1.1,0H7.5M0,-1.1L1.1,0L0,1.1L-1.1,0Z"]},
                 "legend": {"orient": "none", "legendX": 196, "legendY": 161, "title": null, "labelOffset": 37, "rowPadding": 11, "symbolSize": 100, "symbolStrokeWidth": 2.4, "symbolStrokeColor": "black", "symbolOpacity": 1}},
       "fill": {"field": "s", "type": "nominal", "scale": {"domain": ["SON-intact rats", "SON-transected rats"], "range": ["black", "white"]}},
       "stroke": {"field": "s", "type": "nominal", "scale": {"domain": ["SON-intact rats", "SON-transected rats"], "range": ["black", "black"]}}}},
     {"data": {"name": "a5"}, "mark": {"type": "text", "font": "Lato", "fontSize": 16, "baseline": "alphabetic", "dy": 9, "color": "#666666"},
      "encoding": {"x": {"field": "t", "type": "ordinal", "axis": null}, "y": {"field": "y", "type": "quantitative"}, "text": {"field": "lab"}}}
    ]}
  ], "spacing": 0, "bounds": "flush", "resolve": {"scale": {"shape": "independent", "fill": "independent", "stroke": "independent"}}}
 ], "spacing": 113, "bounds": "flush", "resolve": {"scale": {"shape": "independent", "fill": "independent", "stroke": "independent"}}}
]
}
